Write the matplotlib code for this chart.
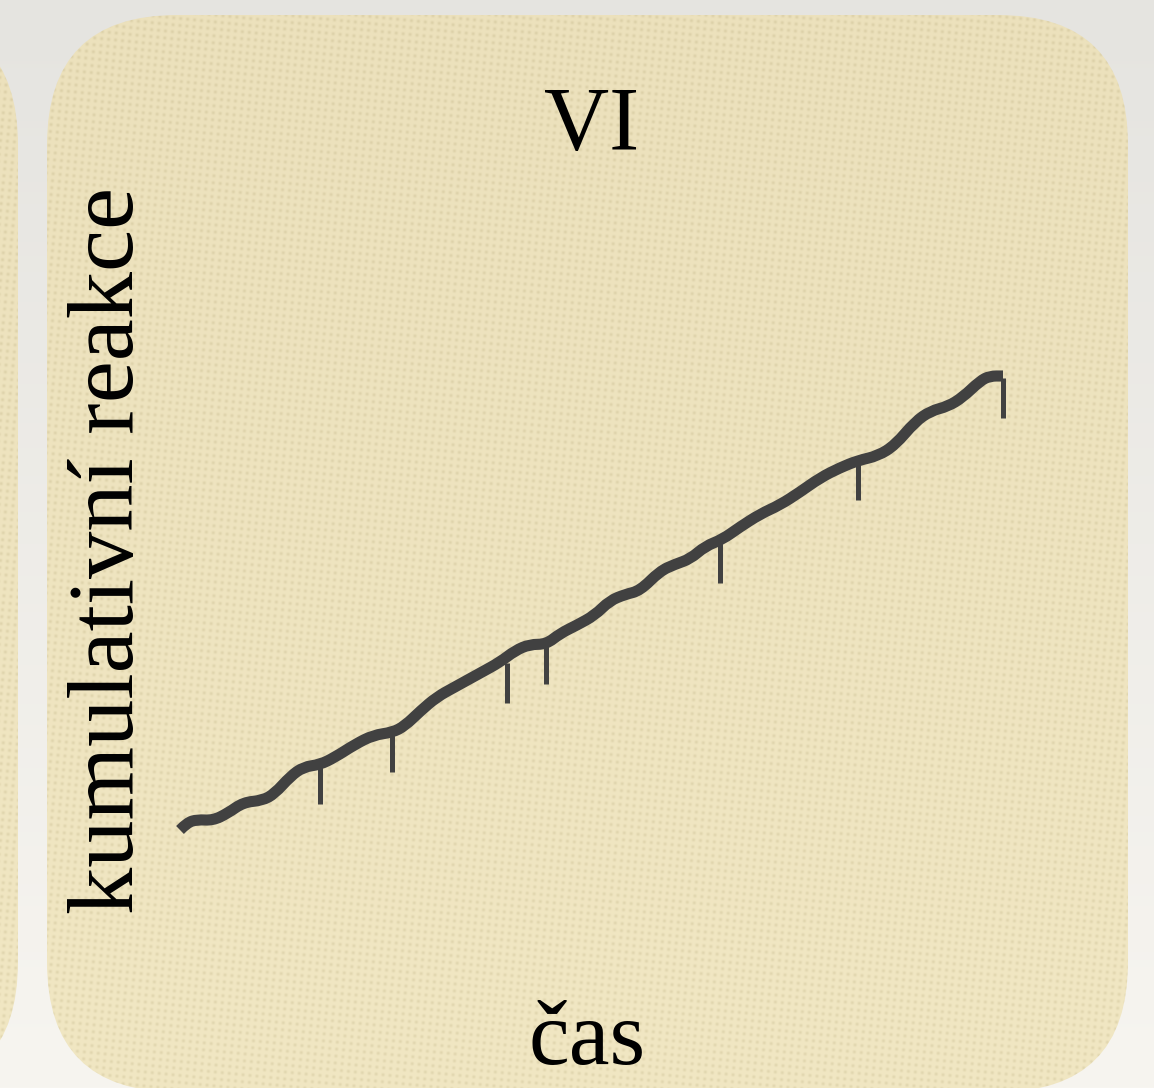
import numpy as np
import matplotlib
matplotlib.use("Agg")
import matplotlib.pyplot as plt
from matplotlib.patches import FancyBboxPatch, PathPatch
from matplotlib.path import Path

# ---- data ----
title = "VI"
x_label = "čas"
y_label = "kumulativní reakce"

time = [0, 0.85, 2.07, 4.0, 5.8, 7.7, 10.0, 11.5, 13.4, 15.0, 17.0, 18.8, 21.3, 23.5,
        25.8, 27.3, 29.2, 31.2, 33.4, 36.5, 38.9, 40.7, 42.5, 44.5, 46.2, 48.2, 50.4,
        52.2, 54.1, 55.9, 58.3, 60.1, 62.0, 63.8, 65.9, 68.0, 70.5, 72.9, 75.3, 77.8,
        80.2, 82.4, 84.8, 86.9, 89.3, 91.2, 93.3, 95.1, 97.2, 98.4, 100.0]
responses = [0, 1.6, 2.3, 2.1, 3.7, 6.1, 6.5, 8.0, 11.8, 13.9, 14.4, 16.0, 18.9, 20.9,
             21.5, 22.9, 26.2, 29.3, 31.5, 34.6, 37.0, 39.5, 40.9, 40.9, 43.3, 45.1, 47.3,
             50.5, 51.9, 52.7, 57.0, 58.5, 59.7, 62.5, 64.0, 66.7, 69.6, 71.6, 74.4, 77.6,
             79.8, 81.4, 82.4, 84.8, 89.9, 92.3, 93.3, 95.3, 98.9, 100.0, 100.0]
reinf_time = [17.0, 25.8, 39.7, 44.5, 65.6, 82.4, 100.0]
reinf_resp = [14.5, 21.6, 36.8, 41.0, 63.2, 81.5, 99.6]

W, H = 1154, 1088
DPI = 100
fig = plt.figure(figsize=(W / DPI, H / DPI), dpi=DPI)

# ---- background ----
bg = fig.add_axes([0, 0, 1, 1])
bg.set_xlim(0, W)
bg.set_ylim(0, H)
bg.axis("off")
t = np.linspace(0, 1, H)[:, None, None]
top = np.array([229, 228, 224]) / 255.0
bot = np.array([247, 245, 240]) / 255.0
grad = top * (1 - t) + bot * t
grad = np.broadcast_to(grad, (H, W, 3))
bg.imshow(grad, extent=(0, W, 0, H), origin="upper", aspect="auto", zorder=0)

# panel texture (beige with small dots)
yy, xx = np.mgrid[0:H, 0:W]
p = 7.0
u = xx + 0.1 * yy
v = yy - 0.1 * xx
dots = ((1 + np.cos(2 * np.pi * u / p)) * (1 + np.cos(2 * np.pi * v / p)) / 4) ** 1.5
ptop = np.array([236, 225, 188]) / 255.0
pbot = np.array([241, 231, 195]) / 255.0
tt = (yy / H)[..., None]
base = ptop * (1 - tt) + pbot * tt
tex = base - dots[..., None] * np.array([0.06, 0.063, 0.075])
tex = np.clip(tex, 0, 1)

R = 130
panels = [(47, -4, 1081, 1077), (-1100, -4, 1118, 1077)]
for (px, py, pw, ph) in panels:
    patch = FancyBboxPatch((px, py), pw, ph, boxstyle=f"round,pad=0,rounding_size={R}",
                           facecolor="none", edgecolor="none", zorder=1)
    bg.add_patch(patch)
    im = bg.imshow(tex, extent=(0, W, 0, H), origin="upper", aspect="auto", zorder=1)
    im.set_clip_path(patch)

# ---- main axes ----
x0, x1 = 180, 1003
y0, y1 = 830, 376
ax = fig.add_axes([x0 / W, (H - y0) / H, (x1 - x0) / W, (y0 - y1) / H])
ax.patch.set_alpha(0)
ax.set_xlim(0, 100)
ax.set_ylim(0, 100)
ax.axis("off")

col = "#414141"
tick_len = 8.8
ax.vlines(reinf_time, [r - tick_len for r in reinf_resp], reinf_resp,
          colors=col, linewidth=3.6, clip_on=False, zorder=2)

# smooth drawing of the record through the read points (quadratic segments)
pts = np.column_stack([time, responses])
verts = [pts[0]]
codes = [Path.MOVETO]
for i in range(1, len(pts) - 1):
    mid = (pts[i] + pts[i + 1]) / 2
    verts += [pts[i], mid]
    codes += [Path.CURVE3, Path.CURVE3]
verts.append(pts[-1])
codes.append(Path.LINETO)
ax.add_patch(PathPatch(Path(verts, codes), fill=False, edgecolor=col, linewidth=8,
                       capstyle="butt", joinstyle="round", clip_on=False, zorder=3))

font = ["Liberation Serif", "DejaVu Serif"]
fig.text(592 / W, 1 - 150 / H, title, ha="center", va="baseline",
         fontsize=65, family=font, color="black")
fig.text(587 / W, 1 - 1064 / H, x_label, ha="center", va="baseline",
         fontsize=66, family=font, color="black")
fig.text(133 / W, 1 - 550 / H, y_label, ha="center", va="baseline",
         rotation=90, rotation_mode="anchor", fontsize=68, family=font, color="black")

fig.savefig("out.png", dpi=DPI)
